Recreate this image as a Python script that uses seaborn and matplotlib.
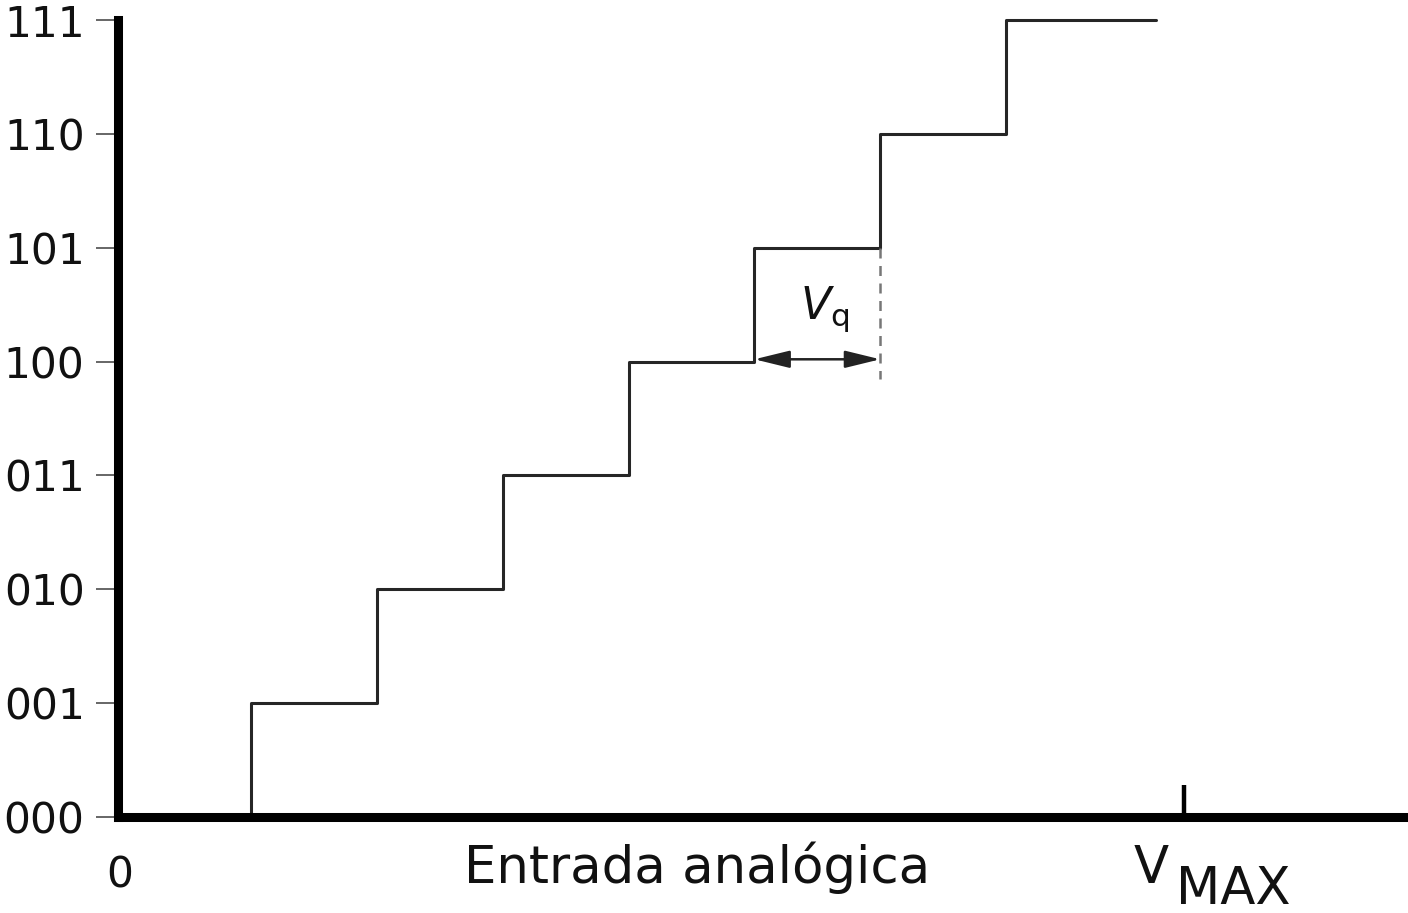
import matplotlib
matplotlib.use("Agg")
import matplotlib.pyplot as plt
import seaborn as sns
import pandas as pd

# Output codes of a 3-bit converter and the input levels where each code starts
codes = ["000", "001", "010", "011", "100", "101", "110", "111"]
levels = [0, 1, 2, 3, 4, 5, 6, 7]
thresholds = [1, 2, 3, 4, 5, 6, 7]
x_end = 8.19          # where the last step is drawn to
v_max = 8.41          # full-scale input
vq_start, vq_end = 5, 6   # one quantisation step, marked with the arrow
vq_level = 4

sns.set_theme(style="white")
plt.rcParams["font.family"] = ["DejaVu Sans"]
plt.rcParams["mathtext.fontset"] = "dejavusans"

fig = plt.figure(figsize=(14.08, 9.13), dpi=100)
ax = fig.add_axes([118 / 1408, 96 / 913, (1405 - 118) / 1408, (817 - 20) / 913])

stairs = pd.DataFrame({"entrada": thresholds + [x_end], "codigo": levels})
sns.lineplot(data=stairs, x="entrada", y="codigo", drawstyle="steps-pre",
             color="#262626", linewidth=2.2, ax=ax, clip_on=False, sort=False)

ax.set_xlim(-0.057, 10.17)
ax.set_ylim(0, 7)

# Axes: heavy left and bottom lines only
for side in ("top", "right"):
    ax.spines[side].set_visible(False)
for side in ("left", "bottom"):
    ax.spines[side].set_linewidth(6.5)
    ax.spines[side].set_color("black")
    ax.spines[side].set_capstyle("projecting")

ax.set_yticks(levels)
ax.set_yticklabels(codes)
ax.tick_params(axis="y", left=True, direction="out", length=16, width=1.4,
               color="#666666", pad=8, labelsize=30.5, labelcolor="#111111")
ax.set_xticks([v_max])
ax.set_xticklabels([""])
ax.tick_params(axis="x", bottom=True, direction="in", length=23, width=3.2,
               color="black")
ax.set_xlabel("")
ax.set_ylabel("")

# Labels under the horizontal axis
ax.text(-0.04, -0.62, "0", ha="center", va="baseline", fontsize=30.5, color="#111111")
ax.text(4.545, -0.58, "Entrada analógica", ha="center", va="baseline",
        fontsize=37, color="#111111")
ax.text(8.01, -0.58, "V", ha="left", va="baseline", fontsize=37, color="#111111")
ax.text(8.35, -0.765, "MAX", ha="left", va="baseline", fontsize=37, color="#111111")

# Quantisation step Vq
ax.annotate("", xy=(vq_end, vq_level + 0.02), xytext=(vq_start, vq_level + 0.02),
            arrowprops=dict(arrowstyle="<|-|>,head_length=0.9,head_width=0.22",
                            color="#222222", lw=1.8,
                            mutation_scale=24, shrinkA=0, shrinkB=0))
ax.plot([vq_end, vq_end], [vq_level + 1, vq_level - 0.15], color="#777777",
        linewidth=1.8, linestyle=(0, (4, 3)))
ax.text(5.56, 4.46, r"$V_{\mathrm{q}}$", ha="center", va="center",
        fontsize=32, color="#111111")

fig.savefig("out.png", dpi=100, facecolor="white")
